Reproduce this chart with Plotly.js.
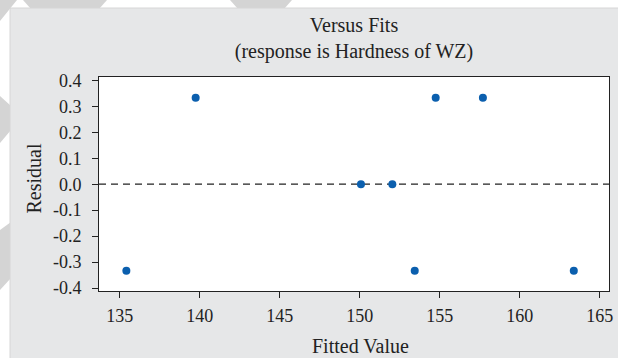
<!DOCTYPE html>
<html>
<head>
<meta charset="utf-8">
<script src="https://cdn.plot.ly/plotly-3.0.1.min.js"></script>
<style>html,body{margin:0;padding:0;background:#fff;}#chart{width:618px;height:358px;}</style>
</head>
<body>
<div id="chart"></div>
<script>
// Data
const fittedValues = [135.42, 139.75, 150.08, 152.04, 153.44, 154.75, 157.7, 163.38];
const residuals    = [-0.3333, 0.3333, 0.0, 0.0, -0.3333, 0.3333, 0.3333, -0.3333];
const xTickVals = [135, 140, 145, 150, 155, 160, 165];
const yTickVals = [-0.4, -0.3, -0.2, -0.1, 0.0, 0.1, 0.2, 0.3, 0.4];
const yTickText = ["-0.4", "-0.3", "-0.2", "-0.1", "0.0", "0.1", "0.2", "0.3", "0.4"];
const titleText = "Versus Fits<br>(response is Hardness of WZ)";
const xTitle = "Fitted Value";
const yTitle = "Residual";

const W = 618, H = 358;
const M = {l: 99, r: 9, t: 77, b: 67};
const PW = W - M.l - M.r, PH = H - M.t - M.b;
const px = v => (v - M.l) / PW;
const py = v => (H - M.b - v) / PH;
const poly = pts => 'M' + pts.map(p => px(p[0]) + ',' + py(p[1])).join(' L') + ' Z';

const FONT = "Liberation Serif, Times New Roman, serif";
const wm = '#d4d4d4';

const shapes = [
  // watermark wedges in the margin
  {type: 'path', xref: 'paper', yref: 'paper', layer: 'below', path: poly([[0,0],[17,0],[0,21]]), fillcolor: wm, line: {width: 0}},
  {type: 'path', xref: 'paper', yref: 'paper', layer: 'below', path: poly([[23,0],[107,0],[99,9],[31,9]]), fillcolor: wm, line: {width: 0}},
  {type: 'path', xref: 'paper', yref: 'paper', layer: 'below', path: poly([[230,0],[292,0],[284,9],[238,9]]), fillcolor: wm, line: {width: 0}},
  {type: 'path', xref: 'paper', yref: 'paper', layer: 'below', path: poly([[0,96],[11,106],[11,130],[0,143]]), fillcolor: wm, line: {width: 0}},
  {type: 'path', xref: 'paper', yref: 'paper', layer: 'below', path: poly([[0,230],[11,222],[11,278],[0,290]]), fillcolor: wm, line: {width: 0}},
  // gray panel
  {type: 'rect', xref: 'paper', yref: 'paper', layer: 'below', x0: px(10), x1: px(619), y0: py(8), y1: py(359), fillcolor: '#e6e7e8', line: {color: '#d6d6d6', width: 1}},
  // white plot area
  {type: 'rect', xref: 'paper', yref: 'paper', layer: 'below', x0: 0, x1: 1, y0: 0, y1: 1, fillcolor: '#ffffff', line: {width: 0}},
  // zero reference line
  {type: 'line', xref: 'paper', yref: 'y', layer: 'below', x0: 0, x1: 1, y0: 0, y1: 0, line: {color: '#222222', width: 1.3, dash: '7px,5px'}}
];

const trace = {
  type: 'scatter', mode: 'markers',
  x: fittedValues, y: residuals,
  marker: {color: '#0b5fae', size: 8},
  hoverinfo: 'skip'
};

const layout = {
  width: W, height: H,
  margin: M,
  paper_bgcolor: '#ffffff',
  plot_bgcolor: '#ffffff',
  showlegend: false,
  font: {family: FONT, color: '#222222', size: 18},
  title: {
    text: titleText,
    font: {family: FONT, size: 20, color: '#222222'},
    xref: 'paper', x: 0.5, xanchor: 'center',
    yref: 'container', y: 1 - 32 / H, yanchor: 'top'
  },
  xaxis: {
    range: [133.71, 165.58],
    tickvals: xTickVals,
    ticks: 'outside', ticklen: 6, tickwidth: 1, tickcolor: '#222',
    showline: true, linecolor: '#222', linewidth: 1, mirror: true,
    showgrid: false, zeroline: false,
    tickfont: {family: FONT, size: 18, color: '#222'},
    ticklabelstandoff: 2
  },
  yaxis: {
    range: [-0.4115, 0.413],
    tickvals: yTickVals, ticktext: yTickText,
    ticks: 'outside', ticklen: 6, tickwidth: 1, tickcolor: '#222',
    showline: true, linecolor: '#222', linewidth: 1, mirror: true,
    showgrid: false, zeroline: false,
    tickfont: {family: FONT, size: 18, color: '#222'},
    ticklabelstandoff: 7
  },
  shapes: shapes,
  annotations: [
    {text: xTitle, xref: 'paper', yref: 'paper', x: px(360), y: py(346), xanchor: 'center', yanchor: 'middle',
     showarrow: false, font: {family: FONT, size: 20, color: '#222'}},
    {text: yTitle, xref: 'paper', yref: 'paper', x: px(33), y: py(178.5), xanchor: 'center', yanchor: 'middle',
     textangle: -90, showarrow: false, font: {family: FONT, size: 20, color: '#222'}}
  ]
};

Plotly.newPlot('chart', [trace], layout, {staticPlot: true, displayModeBar: false});
</script>
</body>
</html>
